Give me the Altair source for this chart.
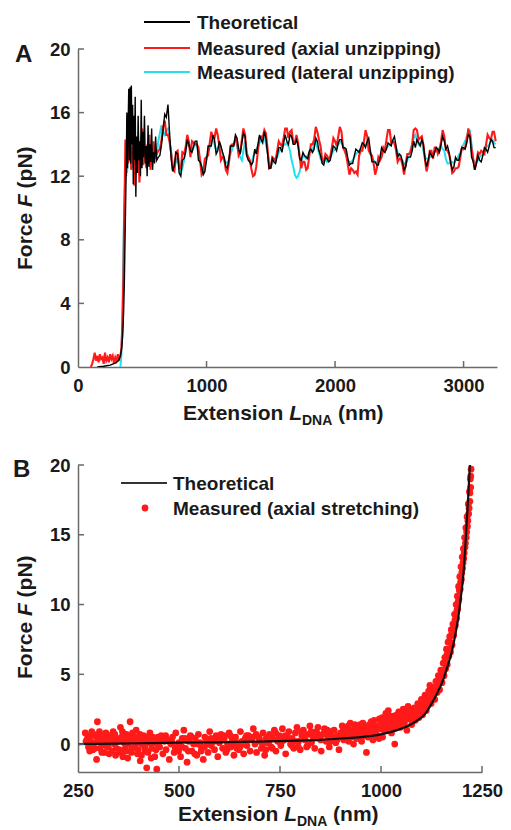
import altair as alt
import pandas as pd

FONT = "Liberation Sans"
TXT = "#1a1a1a"
AX = "#6a6a6a"
BLACK = "#000000"
RED = "#ff1a1a"
CYAN = "#22e0ee"

# ---------------- Panel A : unzipping ----------------
theo_pre_x = [150, 200, 250, 290, 315, 330, 340, 348, 355, 361, 366, 371, 376, 380,
              385, 390, 395, 400, 405, 410, 415, 420, 425, 430, 435, 440, 445, 450,
              456, 462, 468, 474, 480, 486, 492, 498, 504, 510, 517, 524, 531, 538,
              545, 552, 559, 566, 573, 580, 588, 596, 604, 612]
theo_pre_y = [0.0, 0.05, 0.12, 0.25, 0.4, 0.7, 1.2, 2.0, 3.5, 5.5, 8.0, 10.5, 13.0, 16.0,
              12.5, 15.2, 17.5, 13.0, 17.6, 12.8, 17.7, 14.0, 16.5, 11.5, 15.8, 13.0, 17.0, 10.7,
              14.5, 12.2, 15.8, 13.0, 14.2, 12.0, 16.8, 12.5, 14.8, 13.2, 15.8, 12.8, 13.9, 12.0,
              15.2, 12.6, 14.0, 12.9, 15.0, 12.4, 13.5, 12.8, 14.5, 13.0]

axial_pre_x = [100, 110, 120, 130, 140, 150, 160, 170, 180, 190, 200, 210, 220, 230, 240,
               250, 260, 270, 280, 290, 300, 310, 320, 330, 338, 345, 352, 358, 364, 369,
               374, 379, 384, 390, 396, 402, 408, 414, 420, 426, 432, 438, 444, 450, 457,
               464, 471, 478, 485, 492, 500, 508, 516, 524, 532, 540, 548, 556, 564, 572,
               580, 588, 596, 604, 612]
axial_pre_y = [0.0, 0.2, 0.5, 0.9, 0.4, 0.7, 0.3, 0.8, 0.5, 0.6, 0.2, 0.9, 0.4, 0.6, 0.3,
               0.8, 0.5, 0.7, 0.2, 0.6, 0.4, 0.8, 0.5, 0.7, 1.2, 2.6, 5.0, 8.5, 11.5, 14.3,
               12.0, 13.5, 14.6, 12.8, 14.2, 13.0, 14.8, 12.4, 13.6, 12.9, 14.0, 11.4, 13.2, 12.6, 14.1,
               12.2, 13.5, 11.6, 13.0, 12.8, 15.0, 12.7, 13.8, 13.2, 12.5, 14.0, 12.8, 14.6, 12.4, 13.5,
               12.9, 14.2, 13.1, 13.7, 13.4]

lateral_pre_x = [330, 338, 345, 352, 358, 364, 370, 376, 382, 390, 398, 406, 414, 422, 430,
                 440, 450, 460, 470, 480, 490, 500, 510, 520, 530, 540, 550, 560, 570, 580,
                 590, 600, 612]
lateral_pre_y = [0.0, 0.8, 3.0, 6.5, 9.5, 11.2, 12.0, 12.8, 12.2, 13.5, 14.0, 12.9, 13.8, 12.5, 13.2,
                 12.0, 13.6, 12.8, 13.9, 13.0, 14.5, 13.2, 13.9, 13.6, 12.9, 13.8, 12.6, 14.0, 13.1, 13.5,
                 12.9, 13.7, 13.3]

plateau_x = [625, 650, 675, 700, 725, 750, 775, 800, 825, 850,
             875, 900, 925, 950, 975, 1000, 1025, 1050, 1075, 1100,
             1125, 1150, 1175, 1200, 1225, 1250, 1275, 1300, 1325, 1350,
             1375, 1400, 1425, 1450, 1475, 1500, 1525, 1550, 1575, 1600,
             1625, 1650, 1675, 1700, 1725, 1750, 1775, 1800, 1825, 1850,
             1875, 1900, 1925, 1950, 1975, 2000, 2025, 2050, 2075, 2100,
             2125, 2150, 2175, 2200, 2225, 2250, 2275, 2300, 2325, 2350,
             2375, 2400, 2425, 2450, 2475, 2500, 2525, 2550, 2575, 2600,
             2625, 2650, 2675, 2700, 2725, 2750, 2775, 2800, 2825, 2850,
             2875, 2900, 2925, 2950, 2975, 3000, 3025, 3050, 3075, 3100,
             3125, 3150, 3175, 3200, 3225, 3250]
theo_plateau = [13.2, 14.0, 15.9, 16.5, 13.1, 12.7, 13.4, 12.0, 13.1, 14.3,
                13.6, 13.9, 14.2, 12.9, 12.1, 13.0, 13.9, 14.6, 13.4, 14.2,
                13.5, 12.6, 13.1, 13.9, 14.6, 13.7, 14.1, 14.5, 13.0, 12.7,
                13.7, 14.0, 14.3, 14.8, 13.4, 12.5, 12.9, 13.3, 13.8, 14.1,
                14.2, 14.6, 14.0, 14.3, 13.1, 13.5, 13.2, 13.6, 13.5, 14.4,
                13.6, 12.8, 13.2, 12.9, 13.5, 13.8, 14.1, 14.3, 13.8, 13.1,
                12.8, 13.3, 13.6, 13.8, 14.0, 14.2, 13.6, 12.9, 12.7, 13.2,
                13.6, 13.7, 14.0, 14.3, 13.9, 13.4, 12.9, 12.6, 13.2, 13.6,
                13.8, 14.1, 14.3, 13.1, 13.0, 13.3, 13.5, 13.7, 14.0, 14.2,
                13.9, 12.8, 12.6, 13.0, 13.4, 13.8, 14.1, 14.5, 12.9, 12.8,
                13.0, 13.3, 13.7, 13.9, 14.2, 13.8]
axial_plateau = [13.6, 14.3, 15.5, 14.6, 13.4, 12.3, 13.6, 12.5, 13.4, 14.6,
                 13.2, 14.1, 14.0, 13.0, 12.3, 13.2, 14.1, 14.4, 15.0, 13.9,
                 13.2, 12.4, 12.9, 14.0, 14.4, 13.3, 14.3, 14.6, 13.2, 12.4,
                 12.1, 13.6, 14.5, 14.9, 13.7, 12.6, 13.1, 13.6, 14.0, 14.4,
                 15.0, 14.8, 14.1, 14.6, 13.2, 12.9, 12.4, 13.3, 14.0, 15.1,
                 14.3, 13.0, 13.4, 13.1, 13.8, 14.2, 14.5, 14.8, 13.6, 12.7,
                 12.5, 12.2, 12.1, 13.6, 14.2, 14.5, 13.4, 12.8, 12.5, 13.0,
                 13.8, 14.3, 14.9, 14.2, 13.6, 13.1, 12.7, 12.8, 13.4, 14.0,
                 15.0, 14.3, 14.5, 13.0, 12.8, 13.6, 13.8, 13.4, 14.2, 14.5,
                 13.6, 12.9, 12.3, 12.5, 13.2, 13.7, 14.3, 14.6, 13.1, 12.9,
                 13.4, 13.5, 14.0, 14.4, 14.8, 14.2]
lateral_plateau = [14.2, 15.2, 14.6, 15.0, 13.5, 12.6, 13.2, 12.2, 13.0, 14.1,
                   13.7, 13.8, 14.0, 13.0, 12.3, 13.1, 13.8, 14.4, 13.6, 14.0,
                   13.4, 12.8, 13.0, 13.7, 14.3, 13.5, 13.0, 14.2, 13.1, 12.8,
                   13.5, 13.9, 14.2, 14.6, 13.5, 12.6, 13.0, 13.2, 13.7, 14.0,
                   14.1, 13.6, 12.6, 11.9, 12.3, 13.3, 13.1, 13.5, 13.6, 14.2,
                   13.5, 12.9, 13.1, 13.0, 13.4, 13.7, 14.0, 14.2, 13.7, 13.0,
                   12.9, 13.2, 13.5, 13.7, 13.9, 14.1, 13.5, 13.0, 12.8, 13.1,
                   13.5, 13.8, 14.0, 14.2, 13.8, 13.3, 13.0, 12.7, 13.3, 14.0,
                   14.6, 14.0, 14.2, 13.2, 13.1, 13.2, 13.5, 13.6, 13.9, 13.6,
                   12.8, 12.9, 12.8, 13.1, 13.5, 14.0, 14.5, 14.8, 13.0, 12.9,
                   13.2, 13.4, 13.8, 14.0, 14.3, 14.0]

# readings taken between the grid positions above
plateau_mid_x = [637, 662, 687, 712, 737, 762, 787, 812, 837, 862,
                 887, 912, 937, 962, 987, 1012, 1037, 1062, 1087, 1112,
                 1137, 1162, 1187, 1212, 1237, 1262, 1287, 1312, 1337, 1362,
                 1387, 1412, 1437, 1462, 1487, 1512, 1537, 1562, 1587, 1612,
                 1637, 1662, 1687, 1712, 1737, 1762, 1787, 1812, 1837, 1862,
                 1887, 1912, 1937, 1962, 1987, 2012, 2037, 2062, 2087, 2112,
                 2137, 2162, 2187, 2212, 2237, 2262, 2287, 2312, 2337, 2362,
                 2387, 2412, 2437, 2462, 2487, 2512, 2537, 2562, 2587, 2612,
                 2637, 2662, 2687, 2712, 2737, 2762, 2787, 2812, 2837, 2862,
                 2887, 2912, 2937, 2962, 2987, 3012, 3037, 3062, 3087, 3112,
                 3137, 3162, 3187, 3212, 3237]
theo_mid = [13.3, 14.9, 15.7, 14.8, 12.3, 13.5, 12.2, 13.0, 13.5, 14.0,
            13.5, 14.2, 13.0, 12.6, 12.3, 13.9, 13.9, 14.3, 13.6, 13.9,
            13.2, 12.5, 13.9, 13.9, 14.4, 13.4, 14.7, 13.3, 12.9, 12.9,
            13.4, 14.6, 14.1, 14.4, 12.5, 13.1, 12.8, 13.8, 13.5, 14.6,
            14.0, 14.5, 14.0, 13.9, 13.0, 13.3, 13.1, 13.7, 13.7, 14.2,
            13.3, 12.7, 13.1, 13.0, 13.9, 13.6, 14.3, 13.8, 13.7, 12.7,
            12.8, 13.7, 13.5, 14.1, 13.8, 14.4, 12.9, 12.9, 12.7, 13.8,
            13.5, 14.1, 13.9, 14.5, 13.2, 13.3, 12.4, 13.2, 13.2, 14.2,
            14.3, 13.9, 14.0, 12.6, 13.5, 13.2, 13.8, 13.5, 14.5, 13.7,
            13.5, 12.4, 13.2, 13.0, 13.8, 13.7, 14.6, 13.2, 12.4, 13.3,
            12.9, 13.8, 13.5, 14.3, 13.8]
axial_mid = [13.7, 15.1, 14.6, 14.2, 12.4, 13.5, 12.5, 13.5, 13.8, 14.2,
             14.2, 14.0, 13.8, 12.1, 13.1, 13.3, 14.8, 14.4, 14.6, 13.0,
             13.1, 12.2, 13.9, 14.0, 14.2, 13.5, 15.0, 13.4, 13.0, 12.0,
             12.6, 14.4, 14.4, 14.7, 12.5, 13.2, 13.0, 14.2, 13.9, 15.0,
             14.4, 14.9, 14.1, 14.1, 12.5, 12.9, 12.5, 14.0, 14.3, 14.8,
             13.9, 12.9, 13.3, 13.2, 14.4, 13.9, 15.1, 13.8, 13.3, 12.1,
             12.4, 12.3, 13.3, 13.6, 14.9, 13.6, 13.3, 12.1, 13.2, 13.2,
             13.6, 14.9, 14.1, 14.1, 12.9, 13.1, 12.1, 13.4, 13.5, 14.9,
             14.9, 14.4, 14.0, 12.3, 13.6, 13.1, 13.8, 13.6, 14.9, 13.7,
             13.4, 12.2, 12.5, 12.6, 13.8, 13.8, 15.0, 13.7, 12.4, 13.5,
             13.6, 13.4, 14.6, 14.3, 14.8]
lateral_mid = [14.7, 14.8, 14.9, 14.3, 12.9, 12.9, 12.7, 12.5, 13.6, 13.9,
               13.6, 14.0, 13.4, 12.6, 12.7, 13.5, 14.1, 14.0, 13.8, 13.7,
               13.0, 12.9, 13.4, 14.0, 13.9, 13.2, 13.6, 13.6, 12.9, 13.2,
               13.7, 14.1, 14.4, 14.0, 12.9, 12.8, 13.1, 13.5, 13.9, 14.0,
               13.9, 13.0, 12.1, 12.0, 12.9, 13.2, 13.3, 13.5, 14.0, 13.8,
               13.1, 13.0, 12.9, 13.2, 13.6, 13.8, 14.1, 13.9, 13.3, 12.9,
               13.0, 13.4, 13.6, 13.8, 14.0, 13.8, 13.2, 12.9, 13.0, 13.3,
               13.7, 13.9, 14.1, 14.0, 13.5, 13.1, 12.8, 13.0, 13.7, 14.4,
               14.3, 14.1, 13.6, 13.1, 13.2, 13.3, 13.6, 13.8, 13.7, 13.1,
               12.8, 12.9, 13.0, 13.3, 13.8, 14.2, 14.7, 14.0, 12.9, 13.0,
               13.3, 13.6, 13.9, 14.2, 14.1]

A_XTICKS = [0, 1000, 2000, 3000]
A_YTICKS = [0, 4, 8, 12, 16, 20]
A_LEGEND = ["Theoretical", "Measured (axial unzipping)", "Measured (lateral unzipping)"]

# ---------------- Panel B : stretching ----------------
theo_b_x = [250, 300, 400, 500, 600, 700, 800, 850, 900, 950, 1000, 1040, 1070, 1090,
            1110, 1125, 1140, 1155, 1165, 1175, 1185, 1192, 1198, 1204, 1208, 1212, 1216, 1220]
theo_b_y = [0.0, 0.02, 0.06, 0.1, 0.13, 0.18, 0.25, 0.3, 0.4, 0.5, 0.7, 1.0, 1.35, 1.7,
            2.2, 2.9, 3.7, 4.7, 5.6, 6.6, 8.0, 9.2, 10.6, 12.2, 13.8, 15.8, 17.8, 20.0]

measured_pts = [
    (268, 0.8), (272, 0.3), (276, -0.2), (280, 0.5), (284, 0.9), (287, -0.4), (290, 0.1),
    (293, 0.6), (296, -1.1), (298, 1.6), (301, 0.2), (304, -0.3), (307, 0.7), (310, 0.0),
    (313, 0.4), (316, -0.6), (319, 0.8), (322, 0.1), (325, -0.2), (328, 0.6), (331, 0.3),
    (334, -0.5), (337, 0.9), (340, 0.0), (343, -0.8), (346, 0.4), (349, 0.2), (352, -0.4),
    (355, 1.2), (358, 0.5), (361, -0.9), (364, 0.1), (367, -0.3), (370, 0.7), (373, -1.0),
    (376, 0.3), (379, 1.6), (382, -0.6), (385, 0.8), (388, 0.2), (391, -0.2), (394, 1.0),
    (397, -0.7), (400, 0.4), (404, -1.2), (408, 0.0), (412, 0.6), (416, -0.5), (420, -1.7),
    (424, 0.3), (428, 0.8), (432, -0.3), (436, 0.1), (440, -0.9), (445, -1.8), (448, 0.5),
    (452, -0.2), (456, 0.6), (460, -0.7), (464, 0.2), (468, -0.4), (472, 0.3), (476, -1.1),
    (480, 0.0), (484, 0.5), (488, -0.6), (492, 0.8), (496, -0.2), (500, 0.1), (504, -0.9),
    (508, 0.4), (512, 1.0), (516, -0.3), (520, -1.3), (524, 0.2), (528, 0.6), (532, -0.5),
    (536, 0.0), (540, 0.4), (544, -0.8), (548, 0.7), (552, 0.1), (556, -0.3), (560, -1.1),
    (564, 0.5), (568, 0.2), (572, -0.6), (576, 0.9), (580, -0.1), (584, 0.3), (588, -0.4),
    (592, 0.6), (596, -0.9), (600, 0.1), (604, 0.7), (608, -0.3), (612, 0.4), (616, -0.6),
    (620, 0.0), (624, 0.8), (628, -0.2), (632, 0.3), (636, -0.8), (640, 0.5), (644, 0.1),
    (648, -0.4), (652, 0.9), (656, 0.2), (660, -0.7), (664, 0.4), (668, -0.1), (672, 0.6),
    (676, -0.5), (680, 0.3), (684, 1.1), (688, 0.0), (692, -0.6), (696, 0.5), (700, 0.2),
    (704, -0.3), (708, 0.8), (712, -0.8), (716, 0.4), (720, 0.1),
    (724, 0.7), (728, -0.2), (732, 0.4), (736, 1.0), (740, -0.5), (744, 0.2), (748, 0.6),
    (752, -0.1), (756, 1.1), (760, 0.3), (764, -0.7), (768, 0.5), (772, 0.9), (776, 0.0),
    (780, 0.4), (784, -0.3), (788, 0.8), (792, 1.2), (796, 0.2), (800, -0.4), (804, 0.6),
    (808, 1.0), (812, 0.3), (816, -0.2), (820, 0.7), (824, 1.3), (828, 0.1), (832, 0.5),
    (836, -0.3), (840, 0.9), (844, 1.2), (848, 0.4), (852, -0.5), (856, 0.7), (860, 1.1),
    (864, 0.2), (868, 0.6), (872, -0.2), (876, 0.9), (880, 0.4), (884, 1.0), (888, 0.1),
    (892, 0.6), (896, -0.4), (900, 0.8),
    (904, 1.3), (908, 0.3), (912, 0.7), (916, 1.0), (920, 0.2), (924, 1.5), (928, 0.6),
    (932, 0.0), (936, 1.1), (940, 0.4), (944, 0.9), (948, 1.4), (952, 0.2), (956, 0.8),
    (960, 1.2), (964, -0.6), (968, 0.5), (972, 1.0), (976, 1.6), (980, 0.3), (984, 0.9),
    (988, 1.3), (992, 0.6), (996, 1.8), (1000, 1.1), (1004, 0.5), (1008, 1.5), (1012, 2.2),
    (1016, 1.0), (1018, 2.4), (1022, 1.6), (1026, 0.8), (1030, 2.0), (1034, 0.0), (1036, 1.3),
    (1040, 1.8), (1044, 2.3), (1048, 1.2),
    (1052, 1.9), (1055, 2.5), (1058, 1.5), (1061, 2.1), (1064, 1.0), (1067, 2.7), (1070, 1.8),
    (1073, 2.3), (1076, 1.4), (1079, 2.0), (1082, 2.6), (1085, 1.7), (1088, 2.2), (1091, 2.9),
    (1094, 1.9), (1097, 2.4), (1100, 3.2), (1103, 2.1), (1106, 2.7), (1109, 3.5), (1112, 2.4),
    (1115, 3.0), (1118, 3.8), (1121, 4.2), (1124, 2.9), (1127, 3.4), (1130, 4.0),
    (1133, 3.2), (1136, 4.5), (1139, 3.7), (1142, 4.9), (1145, 3.9), (1148, 5.3), (1151, 4.4),
    (1154, 5.8), (1156, 4.9), (1158, 6.2), (1160, 5.4), (1162, 6.8), (1164, 5.7), (1166, 7.3),
    (1168, 6.3), (1170, 7.7), (1172, 6.6), (1174, 8.2), (1176, 7.1),
    (1178, 8.6), (1180, 7.8), (1182, 9.3), (1184, 8.5), (1186, 10.0), (1187, 9.0), (1189, 10.6),
    (1190, 9.7), (1192, 11.3), (1193, 10.4), (1195, 12.0), (1196, 11.1), (1198, 12.7),
    (1199, 11.8), (1201, 13.4), (1202, 12.6), (1204, 14.0), (1205, 13.3), (1207, 14.8),
    (1208, 14.1), (1210, 15.5), (1211, 14.8), (1213, 16.3), (1214, 15.6), (1216, 17.2),
    (1217, 16.5), (1219, 18.1), (1220, 17.4), (1221, 19.0), (1222, 18.4), (1223, 19.7),
    # second pass of readings (denser parts of the cloud)
    (270, 0.2), (274, 0.6), (279, -0.5), (283, 0.1), (289, 0.7), (292, -0.3), (299, 0.4),
    (303, 0.9), (309, -0.6), (312, 0.3), (318, -0.1), (321, 0.5), (327, -0.7), (333, 0.6),
    (336, 0.2), (341, 0.7), (345, -0.3), (351, 0.3), (356, -0.6), (360, 0.9), (366, 0.4),
    (369, -0.5), (375, 0.0), (381, 0.6), (384, -0.3), (390, 0.5), (396, 0.1), (399, -0.4),
    (403, 0.7), (407, -0.8), (411, 0.2), (415, -0.2), (419, 0.5), (423, -0.6), (427, 0.1),
    (431, -1.0), (435, 0.5), (439, 0.2), (443, -0.4), (447, 0.0),
    (451, 0.4), (459, 0.3), (467, 0.6), (475, 0.2), (483, 0.1), (491, -0.3), (499, -0.5),
    (507, -0.2), (515, 0.4), (523, -0.5), (531, 0.5), (539, -0.7), (547, 0.0), (555, -0.5),
    (563, -0.2), (571, 0.0), (579, 0.4), (587, 0.2), (595, 0.5), (603, 0.3), (611, 0.6),
    (619, -0.4), (627, 0.6), (635, 0.1), (643, -0.3), (651, -0.2), (659, 0.0), (667, 0.6),
    (675, 0.4), (683, 0.5), (691, 0.7), (699, 0.4), (707, 0.0), (715, -0.4), (723, 0.2),
    (731, -0.3), (739, 0.8), (747, 0.3), (755, 0.2), (763, 0.6), (771, 0.4), (779, -0.1),
    (787, 0.2), (795, -0.2), (803, 0.9), (811, 0.6), (819, -0.1), (827, 0.9), (835, 0.6),
    (843, 0.7), (851, 0.3), (859, 0.8), (867, 1.0), (875, 0.2), (883, 0.5), (891, 0.3),
    (899, 0.5),
    (903, 0.6), (907, 1.1), (911, 0.4), (915, 0.8), (919, 1.3), (923, 0.7), (927, 1.0), (931, 0.5),
    (935, 1.4), (939, 0.8), (943, 1.1), (947, 0.6), (951, 1.0), (955, 1.5), (959, 0.6),
    (963, 1.1), (967, 0.9), (971, 1.4), (975, 0.7), (979, 1.2), (983, 1.7), (987, 0.8),
    (991, 1.2), (995, 0.4), (999, 1.5), (1003, 1.9), (1007, 1.0), (1011, 1.4), (1015, 1.8),
    (1019, 1.2), (1023, 2.0), (1027, 1.5), (1031, 1.1), (1035, 1.7), (1039, 2.1), (1043, 1.5),
    (1047, 1.9), (1050, 2.3), (1054, 1.6), (1058, 2.2), (1062, 1.8), (1066, 2.0), (1070, 2.5),
    (1074, 1.9), (1078, 2.4), (1082, 1.8), (1086, 2.5), (1090, 2.1), (1095, 2.7), (1099, 2.5),
    (1104, 3.0), (1108, 2.6), (1113, 3.3), (1117, 2.8), (1122, 3.6), (1126, 3.2), (1131, 3.8),
    (1135, 4.1), (1140, 4.4), (1144, 4.6), (1150, 5.0), (1155, 5.3), (1159, 5.9), (1163, 6.4),
    (1167, 6.8), (1171, 7.3), (1175, 7.9), (1179, 8.2), (1183, 8.9), (1188, 9.6), (1191, 10.2),
    (1194, 11.0), (1197, 11.6), (1200, 12.3), (1203, 13.0), (1206, 13.7), (1209, 14.4),
    (1212, 15.2), (1215, 16.0), (1218, 16.9), (1220, 18.0), (1222, 19.2),
]
meas_b_x = [p[0] for p in measured_pts]
meas_b_y = [p[1] for p in measured_pts]

B_XTICKS = [250, 500, 750, 1000, 1250]
B_YTICKS = [0, 5, 10, 15, 20]
B_LEGEND = ["Theoretical", "Measured (axial stretching)"]

# ---------------- geometry ----------------
WA, HA = 419, 318
WB, HB = 404, 307
LEG_FS = 19
TICK_FS = 18.5

ONE = pd.DataFrame({"k": [0]})


def txt(s, x, y, size=LEG_FS, style="normal", angle=0, align="left", baseline="middle"):
    return alt.Chart(ONE).mark_text(
        text=s, font=FONT, fontSize=size, fontWeight="bold", fontStyle=style,
        angle=angle, align=align, baseline=baseline, color=TXT,
    ).encode(x=alt.value(x), y=alt.value(y))


def hline(x1, x2, y, color, w=2.0):
    return alt.Chart(ONE).mark_rule(color=color, strokeWidth=w).encode(
        x=alt.value(x1), x2=alt.value(x2), y=alt.value(y))


def xtitle(x0, yb):
    return [
        txt("Extension", x0, yb, size=21, baseline="alphabetic"),
        txt("L", x0 + 106.2, yb, size=21, style="italic", baseline="alphabetic"),
        txt("DNA", x0 + 119.0, yb + 5, size=14, baseline="alphabetic"),
        txt("(nm)", x0 + 155.1, yb, size=21, baseline="alphabetic"),
    ]


def ytitle(xb, ybottom):
    return [
        txt("Force", xb, ybottom, size=21, angle=270, baseline="alphabetic"),
        txt("F", xb, ybottom - 63.0, size=21, style="italic", angle=270, baseline="alphabetic"),
        txt("(pN)", xb, ybottom - 81.6, size=21, angle=270, baseline="alphabetic"),
    ]


# ---------------- Panel A ----------------
xA = alt.Scale(domain=[0, 3260], nice=False, zero=False)
yA = alt.Scale(domain=[0, 20], nice=False, zero=False)
axXA = alt.Axis(values=A_XTICKS, title=None, labelPadding=9, format="d")
axYA = alt.Axis(values=A_YTICKS, title=None, labelPadding=8, format="d")


def seriesA(xs, ys, color, w):
    df = pd.DataFrame({"x": xs, "y": ys})
    return alt.Chart(df).mark_line(color=color, strokeWidth=w, clip=True).encode(
        x=alt.X("x:Q", scale=xA, axis=axXA),
        y=alt.Y("y:Q", scale=yA, axis=axYA),
        order="x:Q",
    )


lat = seriesA(lateral_pre_x + plateau_x + plateau_mid_x,
              lateral_pre_y + lateral_plateau + lateral_mid, CYAN, 2.0)
axi = seriesA(axial_pre_x + plateau_x + plateau_mid_x,
              axial_pre_y + axial_plateau + axial_mid, RED, 2.1)
the = seriesA(theo_pre_x + plateau_x + plateau_mid_x,
              theo_pre_y + theo_plateau + theo_mid, BLACK, 1.4)

tickxA = alt.Chart(pd.DataFrame({"x": A_XTICKS[1:]})).mark_rule(color=AX, strokeWidth=1.5).encode(
    x=alt.X("x:Q", scale=xA, axis=axXA), y=alt.value(HA), y2=alt.value(HA - 6))
tickyA = alt.Chart(pd.DataFrame({"y": A_YTICKS[1:]})).mark_rule(color=AX, strokeWidth=1.5).encode(
    y=alt.Y("y:Q", scale=yA, axis=axYA), x=alt.value(0), x2=alt.value(6))

legA = []
for lab, col, yy in zip(A_LEGEND, [BLACK, RED, CYAN], [-27, -1, 23]):
    legA.append(hline(66, 112, yy, col, 2.0))
    legA.append(txt(lab, 119, yy + 0.5))

panelA = alt.layer(
    lat, axi, the, tickxA, tickyA,
    *legA,
    txt("A", -63, 13, size=24, baseline="alphabetic"),
    *xtitle(105, 371),
    *ytitle(-46, 221),
).properties(width=WA, height=HA)

# ---------------- Panel B ----------------
xB = alt.Scale(domain=[250, 1250], nice=False, zero=False)
yB = alt.Scale(domain=[-2, 20], nice=False, zero=False)
axXB = alt.Axis(values=B_XTICKS, title=None, labelPadding=9, format="d")
axYB = alt.Axis(values=B_YTICKS, title=None, labelPadding=8, format="d")

pts = alt.Chart(pd.DataFrame({"x": meas_b_x, "y": meas_b_y})).mark_circle(
    color=RED, size=46, opacity=1, clip=True).encode(
    x=alt.X("x:Q", scale=xB, axis=axXB), y=alt.Y("y:Q", scale=yB, axis=axYB))
curve = alt.Chart(pd.DataFrame({"x": theo_b_x, "y": theo_b_y})).mark_line(
    color="#111111", strokeWidth=2.2, interpolate="monotone", clip=True).encode(
    x=alt.X("x:Q", scale=xB, axis=axXB), y=alt.Y("y:Q", scale=yB, axis=axYB))

tickxB = alt.Chart(pd.DataFrame({"x": B_XTICKS[1:]})).mark_rule(color=AX, strokeWidth=1.5).encode(
    x=alt.X("x:Q", scale=xB, axis=axXB), y=alt.value(HB), y2=alt.value(HB - 6))
tickyB = alt.Chart(pd.DataFrame({"y": B_YTICKS})).mark_rule(color=AX, strokeWidth=1.5).encode(
    y=alt.Y("y:Q", scale=yB, axis=axYB), x=alt.value(0), x2=alt.value(6))

legB = [
    hline(43, 89, 18, "#333333", 2.0),
    txt(B_LEGEND[0], 95, 18.5),
    alt.Chart(ONE).mark_circle(color=RED, size=46, opacity=1).encode(
        x=alt.value(67), y=alt.value(43)),
    txt(B_LEGEND[1], 95, 43.5),
]

panelB = alt.layer(
    pts, curve, tickxB, tickyB,
    *legB,
    txt("B", -65, 12, size=24, baseline="alphabetic"),
    *xtitle(100, 356),
    *ytitle(-46, 214),
).properties(width=WB, height=HB)

chart = alt.vconcat(panelA, panelB, spacing=28).properties(
    padding={"left": 13, "top": 13, "right": 4, "bottom": 4}
).configure_view(strokeWidth=0).configure_axis(
    labelFont=FONT, labelFontSize=TICK_FS, labelFontWeight="bold", labelColor=TXT,
    domainColor=AX, domainWidth=1.5, grid=False, ticks=False, tickSize=0,
    labelFlush=False,
)

chart.save("out.html", embed_options={"renderer": "svg", "actions": False})
